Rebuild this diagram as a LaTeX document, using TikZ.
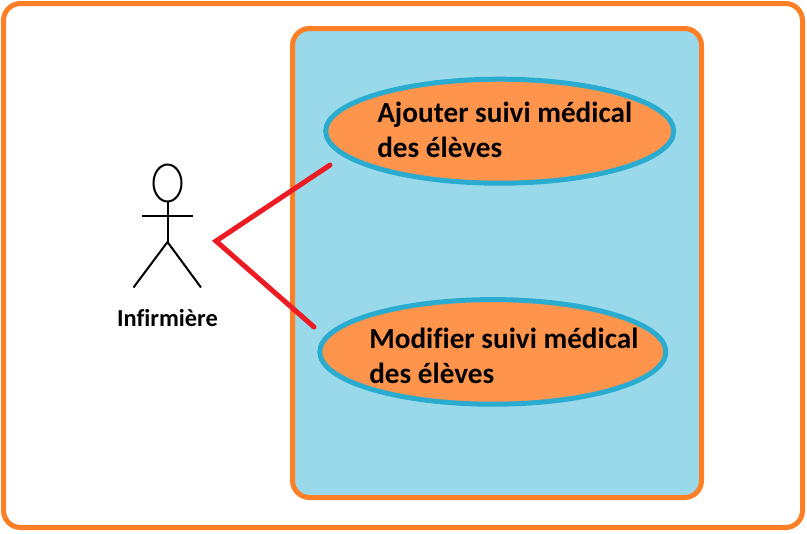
\documentclass[tikz,border=0pt]{standalone}
\usepackage{fontspec}
\setmainfont[Ligatures=NoCommon]{Carlito}
\newlength{\du}
\setlength{\du}{0.75pt}
\definecolor{framecolor}{rgb}{1.000000, 0.498000, 0.153000}
\definecolor{boxcolor}{rgb}{0.600000, 0.851000, 0.918000}
\definecolor{casecolor}{rgb}{1.000000, 0.580000, 0.302000}
\definecolor{caselinecolor}{rgb}{0.165000, 0.675000, 0.816000}
\definecolor{linkcolor}{rgb}{0.929000, 0.110000, 0.141000}
\tikzset{
  frame/.style={draw=framecolor, line width=5\du, rounded corners=17\du},
  usecase/.style={draw=caselinecolor, fill=casecolor, line width=5\du},
  caselabel/.style={anchor=west, inner sep=0pt, align=left, font=\bfseries\fontsize{21.9pt}{26.7pt}\selectfont},
  stick/.style={draw=black, line width=2\du},
  link/.style={draw=linkcolor, line width=5\du, line cap=round}
}
\begin{document}
\begin{tikzpicture}[x=\du,y=-\du]
\useasboundingbox (0,0) rectangle (807,533);
\draw[frame, fill=white] (3.5,3.5) rectangle (802.5,527.5);
\draw[frame, fill=boxcolor] (292.5,28.5) rectangle (701.5,497.5);
% use cases
\draw[usecase] (499.7,131.2) ellipse (174 and 52);
\node[caselabel] (ajouter) at (377,130) {Ajouter suivi médical\\des élèves};
\draw[usecase] (492.8,351.9) ellipse (173 and 52.3);
\node[caselabel] (modifier) at (369,356) {Modifier suivi médical\\des élèves};
% actor
\draw[stick] (167.5,183) ellipse (14 and 18.5);
\coordinate (neck) at (167.5,201.5);
\coordinate (hip) at (167.5,242);
\coordinate (armleft) at (142,215.7);
\coordinate (armright) at (192.5,215.7);
\coordinate (footleft) at (133.5,287.5);
\coordinate (footright) at (201,287.5);
\draw[stick] (neck)--(hip);
\draw[stick] (armleft)--(armright);
\draw[stick] (footleft)--(hip)--(footright);
\node[inner sep=0pt, font=\bfseries\fontsize{18.3pt}{18pt}\selectfont] (infirmiere) at (167.5,318) {Infirmière};
% links
\coordinate (apex) at (216,241);
\coordinate (linkup) at (330,165);
\coordinate (linkdown) at (314,327);
\draw[link] (linkup)--(apex)--(linkdown);
\end{tikzpicture}
\end{document}
